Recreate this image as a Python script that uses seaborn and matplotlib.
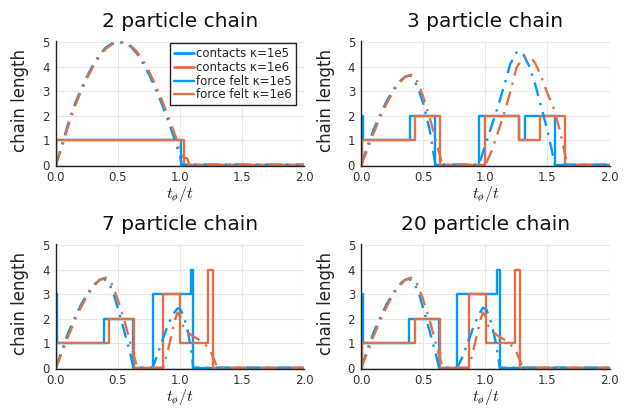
import matplotlib
matplotlib.use("Agg")
import matplotlib.pyplot as plt
import seaborn as sns
from matplotlib.lines import Line2D

# ---------------------------------------------------------------- data
titles = ["2 particle chain", "3 particle chain", "7 particle chain", "20 particle chain"]
series_labels = ["contacts κ=1e5", "contacts κ=1e6", "force felt κ=1e5", "force felt κ=1e6"]
x_ticks = [0.0, 0.5, 1.0, 1.5, 2.0]
x_tick_labels = ["0.0", "0.5", "1.0", "1.5", "2.0"]
y_ticks = [0, 1, 2, 3, 4, 5]

# 2 particle chain
p2_contacts_k5_t = [0, 0.003, 1.005, 2.0]
p2_contacts_k5_n = [0, 1, 0, 0]
p2_contacts_k6_t = [0, 0.003, 1.032, 2.0]
p2_contacts_k6_n = [0, 1, 0, 0]
p2_force_k5_t = [0, 0.05, 0.1, 0.15, 0.2, 0.25, 0.3, 0.35, 0.4, 0.45, 0.5, 0.55, 0.6,
                 0.65, 0.7, 0.75, 0.8, 0.85, 0.9, 0.95, 1.0, 1.015, 2.0]
p2_force_k5_n = [0, 0.85, 1.7, 2.45, 3.05, 3.6, 4.08, 4.48, 4.77, 4.94, 5.0, 4.96, 4.82,
                 4.55, 4.15, 3.68, 3.12, 2.52, 1.85, 1.12, 0.35, 0.0, 0.0]
p2_force_k6_t = [0, 0.05, 0.1, 0.15, 0.2, 0.25, 0.3, 0.35, 0.4, 0.45, 0.5, 0.55, 0.6,
                 0.65, 0.7, 0.75, 0.8, 0.85, 0.9, 0.95, 1.0, 1.03, 1.06, 1.075, 2.0]
p2_force_k6_n = [0, 0.75, 1.6, 2.35, 2.97, 3.52, 4.0, 4.42, 4.72, 4.9, 4.99, 4.98, 4.86,
                 4.62, 4.26, 3.8, 3.27, 2.68, 2.03, 1.35, 0.65, 0.28, 0.25, 0.0, 0.0]

# 3 particle chain
p3_contacts_k5_t = [0, 0.002, 0.012, 0.395, 0.597, 0.948, 1.268, 1.322, 1.56, 2.0]
p3_contacts_k5_n = [0, 2, 1, 2, 0, 2, 1, 2, 0, 0]
p3_contacts_k6_t = [0, 0.003, 0.43, 0.634, 0.997, 1.27, 1.44, 1.64, 2.0]
p3_contacts_k6_n = [0, 1, 2, 0, 2, 1, 2, 0, 0]
p3_force_k5_t = [0, 0.05, 0.1, 0.15, 0.2, 0.25, 0.3, 0.35, 0.38, 0.4, 0.45, 0.5, 0.55, 0.597,
                 0.948, 1.0, 1.05, 1.1, 1.15, 1.2, 1.25, 1.27, 1.3, 1.35, 1.4, 1.45, 1.5, 1.56, 2.0]
p3_force_k5_n = [0, 0.75, 1.45, 2.02, 2.55, 3.0, 3.35, 3.58, 3.64, 3.6, 3.22, 2.48, 1.45, 0.0,
                 0.0, 0.8, 1.58, 2.35, 3.2, 4.1, 4.58, 4.63, 4.55, 4.05, 3.3, 2.35, 1.4, 0.0, 0.0]
p3_force_k6_t = [0, 0.05, 0.1, 0.15, 0.2, 0.25, 0.3, 0.35, 0.4, 0.43, 0.46, 0.5, 0.55, 0.6, 0.648, 0.67,
                 1.0, 1.05, 1.1, 1.15, 1.2, 1.25, 1.3, 1.335, 1.37, 1.4, 1.45, 1.5, 1.55, 1.6, 1.66, 2.0]
p3_force_k6_n = [0, 0.62, 1.3, 1.9, 2.45, 2.92, 3.3, 3.56, 3.67, 3.6, 3.3, 2.75, 1.95, 1.0, 0.1, 0.0,
                 0.0, 0.55, 1.3, 2.08, 2.95, 3.95, 4.35, 4.42, 4.35, 4.15, 3.6, 2.9, 2.3, 1.4, 0.0, 0.0]

# 7 particle chain
p7_contacts_k5_t = [0, 0.002, 0.012, 0.384, 0.625, 0.78, 1.089, 1.107, 2.0]
p7_contacts_k5_n = [0, 3, 1, 2, 0, 3, 4, 0, 0]
p7_contacts_k6_t = [0, 0.003, 0.429, 0.63, 0.866, 1.0, 1.228, 1.268, 2.0]
p7_contacts_k6_n = [0, 1, 2, 0, 3, 1, 4, 0, 0]
p7_force_k5_t = [0, 0.05, 0.1, 0.15, 0.2, 0.25, 0.3, 0.35, 0.38, 0.42, 0.46, 0.5, 0.55, 0.6, 0.625,
                 0.78, 0.82, 0.86, 0.9, 0.94, 0.98, 1.0, 1.03, 1.06, 1.09, 1.107, 2.0]
p7_force_k5_n = [0, 0.75, 1.45, 2.02, 2.55, 3.0, 3.35, 3.58, 3.63, 3.5, 3.1, 2.4, 1.5, 0.55, 0.0,
                 0.0, 0.55, 1.15, 1.7, 2.15, 2.42, 2.4, 2.1, 1.55, 0.75, 0.0, 0.0]
p7_force_k6_t = [0, 0.05, 0.1, 0.15, 0.2, 0.25, 0.3, 0.35, 0.4, 0.43, 0.46, 0.5, 0.55, 0.6, 0.65, 0.67,
                 0.866, 0.9, 0.93, 0.96, 0.98, 1.0, 1.02, 1.05, 1.1, 1.15, 1.2, 1.24, 1.27, 1.3, 2.0]
p7_force_k6_n = [0, 0.62, 1.3, 1.9, 2.45, 2.92, 3.3, 3.56, 3.67, 3.6, 3.3, 2.75, 1.95, 1.0, 0.1, 0.0,
                 0.0, 0.65, 1.3, 1.95, 2.25, 2.1, 1.75, 1.5, 1.3, 1.15, 0.95, 0.75, 0.4, 0.0, 0.0]

# 20 particle chain
p20_contacts_k5_t = [0, 0.002, 0.012, 0.382, 0.627, 0.774, 1.097, 1.116, 2.0]
p20_contacts_k5_n = [0, 3, 1, 2, 0, 3, 4, 0, 0]
p20_contacts_k6_t = [0, 0.003, 0.43, 0.632, 0.866, 1.003, 1.237, 1.277, 2.0]
p20_contacts_k6_n = [0, 1, 2, 0, 3, 1, 4, 0, 0]
p20_force_k5_t = [0, 0.05, 0.1, 0.15, 0.2, 0.25, 0.3, 0.35, 0.38, 0.42, 0.46, 0.5, 0.55, 0.6, 0.627,
                  0.774, 0.82, 0.86, 0.9, 0.94, 0.98, 1.01, 1.04, 1.07, 1.1, 1.116, 2.0]
p20_force_k5_n = [0, 0.75, 1.45, 2.02, 2.55, 3.0, 3.35, 3.58, 3.63, 3.5, 3.1, 2.4, 1.5, 0.55, 0.0,
                  0.0, 0.5, 1.05, 1.6, 2.1, 2.45, 2.35, 1.95, 1.35, 0.55, 0.0, 0.0]
p20_force_k6_t = [0, 0.05, 0.1, 0.15, 0.2, 0.25, 0.3, 0.35, 0.4, 0.43, 0.46, 0.5, 0.55, 0.6, 0.65, 0.67,
                  0.866, 0.9, 0.93, 0.96, 0.98, 1.0, 1.02, 1.05, 1.1, 1.15, 1.2, 1.24, 1.27, 1.3, 2.0]
p20_force_k6_n = [0, 0.62, 1.3, 1.9, 2.45, 2.92, 3.3, 3.56, 3.67, 3.6, 3.3, 2.75, 1.95, 1.0, 0.1, 0.0,
                  0.0, 0.65, 1.3, 1.95, 2.25, 2.1, 1.75, 1.5, 1.3, 1.15, 0.95, 0.75, 0.4, 0.0, 0.0]

panels = [
    (p2_contacts_k5_t, p2_contacts_k5_n, p2_contacts_k6_t, p2_contacts_k6_n,
     p2_force_k5_t, p2_force_k5_n, p2_force_k6_t, p2_force_k6_n),
    (p3_contacts_k5_t, p3_contacts_k5_n, p3_contacts_k6_t, p3_contacts_k6_n,
     p3_force_k5_t, p3_force_k5_n, p3_force_k6_t, p3_force_k6_n),
    (p7_contacts_k5_t, p7_contacts_k5_n, p7_contacts_k6_t, p7_contacts_k6_n,
     p7_force_k5_t, p7_force_k5_n, p7_force_k6_t, p7_force_k6_n),
    (p20_contacts_k5_t, p20_contacts_k5_n, p20_contacts_k6_t, p20_contacts_k6_n,
     p20_force_k5_t, p20_force_k5_n, p20_force_k6_t, p20_force_k6_n),
]

# ---------------------------------------------------------------- style
sns.set_style("white")
plt.rcParams["font.family"] = ["DejaVu Sans"]
plt.rcParams["mathtext.fontset"] = "cm"

BLUE = "#009AFA"
ORANGE = "#E36F47"
LW = 1.7
# long dash, gap, dot, gap (in units of line width)
DASHDOT = (0, (6.0, 3.0, 1.0, 3.0))

fig = plt.figure(figsize=(6.29, 4.09), dpi=100)
rects = [
    [0.089, 0.5944, 0.3943, 0.3058],
    [0.5744, 0.5944, 0.3946, 0.3058],
    [0.089, 0.0980, 0.3943, 0.3059],
    [0.5744, 0.0980, 0.3946, 0.3059],
]

for rect, title, data in zip(rects, titles, panels):
    ax = fig.add_axes(rect)
    ck5t, ck5n, ck6t, ck6n, fk5t, fk5n, fk6t, fk6n = data

    sns.lineplot(x=ck5t, y=ck5n, ax=ax, color=BLUE, lw=LW, drawstyle="steps-post",
                 estimator=None, sort=False)
    sns.lineplot(x=ck6t, y=ck6n, ax=ax, color=ORANGE, lw=LW, drawstyle="steps-post",
                 estimator=None, sort=False)
    sns.lineplot(x=fk5t, y=fk5n, ax=ax, color=BLUE, lw=LW, linestyle=DASHDOT,
                 estimator=None, sort=False)
    sns.lineplot(x=fk6t, y=fk6n, ax=ax, color=ORANGE, lw=LW, linestyle=DASHDOT,
                 estimator=None, sort=False)

    ax.set_xlim(0, 2.0)
    ax.set_ylim(-0.05, 5.05)
    ax.set_xticks(x_ticks)
    ax.set_xticklabels(x_tick_labels)
    ax.set_yticks(y_ticks)
    ax.grid(True, color="#e8e8e8", lw=0.8)
    ax.set_axisbelow(True)
    for side in ("top", "right"):
        ax.spines[side].set_visible(False)
    for side in ("left", "bottom"):
        ax.spines[side].set_color("#222222")
        ax.spines[side].set_linewidth(1.0)
    ax.tick_params(direction="in", length=3, width=0.8, labelsize=8.5,
                   labelcolor="#333333", color="#222222")
    ax.tick_params(axis="x", pad=4)
    ax.tick_params(axis="y", pad=4.5)

    ax.set_title(title, fontsize=14.5, pad=10, color="#111111")
    ax.set_xlabel(r"$t_{ø}/t$", fontsize=11.5, labelpad=0, color="#222222")
    ax.set_ylabel("chain length", fontsize=12, color="#222222")
    ax.yaxis.set_label_coords(-0.107, 0.52)

    if title == titles[0]:
        handles = [
            Line2D([], [], color=BLUE, lw=2.0),
            Line2D([], [], color=ORANGE, lw=2.0),
            Line2D([], [], color=BLUE, lw=1.7),
            Line2D([], [], color=ORANGE, lw=1.7),
        ]
        leg = ax.legend(handles, series_labels, loc="upper right",
                        bbox_to_anchor=(0.968, 0.98), borderaxespad=0,
                        fontsize=8.5, frameon=True, fancybox=False,
                        framealpha=1, edgecolor="#222222", handlelength=1.7,
                        handletextpad=0.15, labelspacing=0.05, borderpad=0.35)
        leg.get_frame().set_linewidth(1.0)

fig.savefig("out.png", dpi=100)
